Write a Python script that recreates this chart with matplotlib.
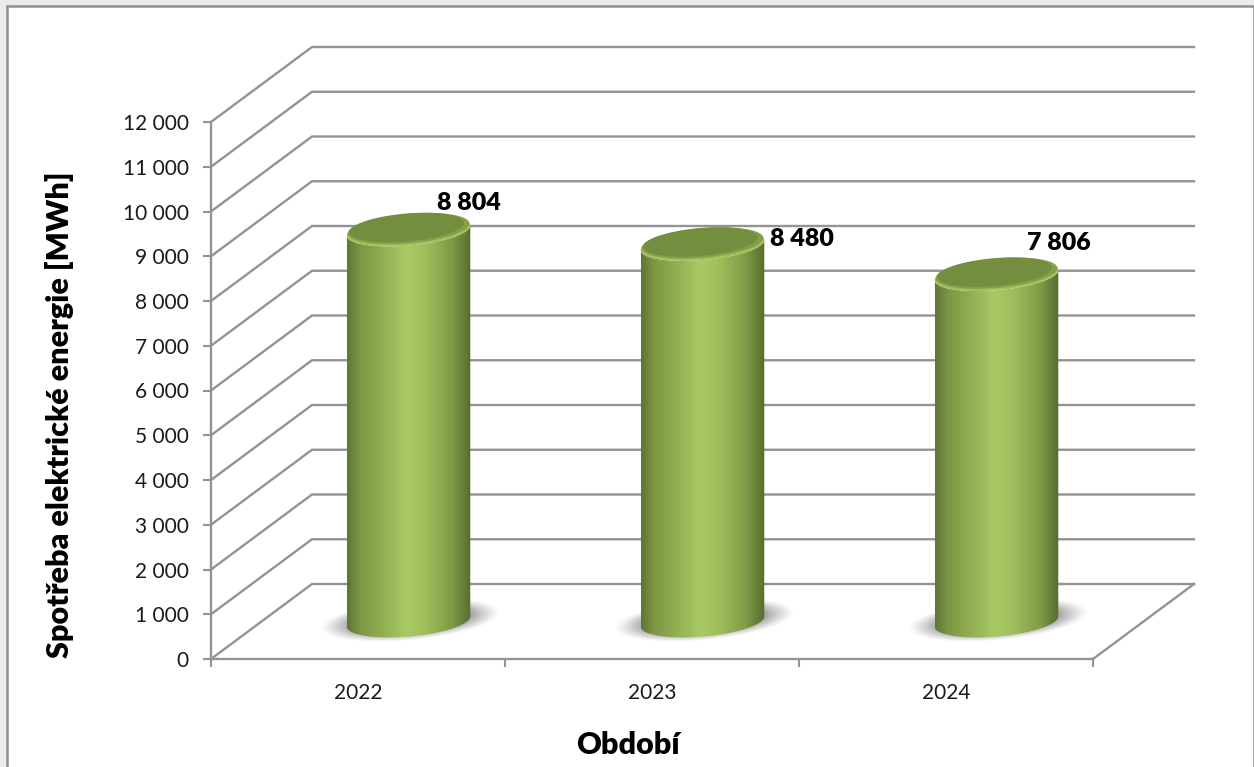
import numpy as np
import matplotlib.pyplot as plt
from matplotlib.colors import LinearSegmentedColormap, to_rgb
from matplotlib.patches import Polygon, Rectangle

plt.rcParams['font.family'] = ['Lato', 'DejaVu Sans']

# data
years = ['2022', '2023', '2024']
spotreba = [8804, 8480, 7806]
spotreba_labels = ['8 804', '8 480', '7 806']
y_ticks = list(range(0, 13000, 1000))
y_tick_labels = ['0', '1 000', '2 000', '3 000', '4 000', '5 000', '6 000', '7 000',
                 '8 000', '9 000', '10 000', '11 000', '12 000']
label_offsets = [(60, 25), (99, 3), (62, 29)]

W, H = 1254, 767
fig = plt.figure(figsize=(W / 100, H / 100), dpi=100, facecolor='#ebebeb')

# chart area with grey frame, bottom edge runs off the picture
fig.add_artist(Rectangle((7 / W, -0.02), (W - 7.5) / W, (H - 6) / H + 0.02, transform=fig.transFigure,
                         fc='white', ec='#8f8f8f', lw=1.8, zorder=-1))

ax = fig.add_axes([211 / W, (H - 659) / H, 882 / W, 537 / H])
ax.set_facecolor('none')

# px -> data units
PX = 3 / 882
PY = 12000 / 537
depth_x, depth_y = 101 * PX, 75 * PY
grid_c = '#939393'

# 3d walls
for v in y_ticks:
    ax.plot([0, depth_x, 3 + depth_x], [v, v + depth_y, v + depth_y], color=grid_c, lw=1.7,
            clip_on=False, zorder=1, solid_joinstyle='miter')
ax.plot([3, 3 + depth_x], [0, depth_y], color=grid_c, lw=1.7, clip_on=False, zorder=1)

cmap = LinearSegmentedColormap.from_list('cyl', [
    (0, '#5d7535'), (0.1, '#7b9644'), (0.3, '#93b153'), (0.48, '#a8ca64'),
    (0.62, '#a0c05c'), (0.85, '#7e9b46'), (1, '#566d2e')])
grad = np.linspace(0, 1, 256).reshape(1, -1)

rx, ry, tilt = 62, 15, np.radians(5)


def ell(cx, cy, t, scale=1.0, dy=0.0):
    # tilted ellipse, sizes in px
    px = scale * rx * np.cos(t) * np.cos(tilt) - scale * ry * np.sin(t) * np.sin(tilt)
    py = scale * rx * np.cos(t) * np.sin(tilt) + scale * ry * np.sin(t) * np.cos(tilt)
    return np.column_stack([cx + px * PX, cy + (py + dy) * PY])


t_all = np.linspace(0, 2 * np.pi, 200)
for i, val in enumerate(spotreba):
    cx = i + 0.5 + depth_x / 2
    cy0 = depth_y / 2
    top = val + cy0 - 3 * PY

    # shadow on the floor
    sx = np.linspace(-100, 100, 300)
    sy = np.linspace(-32, 32, 120)
    X, Y = np.meshgrid(sx, sy)
    d = np.sqrt(((X - 1.5 * Y) / 84) ** 2 + ((Y - 1) / 22) ** 2)
    shadow = np.zeros(X.shape + (4,))
    shadow[..., :3] = to_rgb('#5a5a5a')
    shadow[..., 3] = np.clip((1 - d) / 0.45, 0, 1) ** 1.2 * 0.8
    ax.imshow(shadow, extent=[cx - 100 * PX, cx + 100 * PX, cy0 - 32 * PY, cy0 + 32 * PY],
              origin='lower', aspect='auto', zorder=2, clip_on=False, interpolation='bilinear')

    # body
    lower = ell(cx, cy0, np.linspace(np.pi, 2 * np.pi, 80))
    upper = ell(cx, top, np.linspace(2 * np.pi, np.pi, 80))
    body = Polygon(np.vstack([lower, upper]), closed=True, fc='none', ec='none', transform=ax.transData)
    ax.add_patch(body)
    im = ax.imshow(grad, cmap=cmap, extent=[cx - rx * PX, cx + rx * PX, 0, val + depth_y],
                   aspect='auto', zorder=3, clip_on=True)
    im.set_clip_path(body)

    # top face with lighter rim
    ax.add_patch(Polygon(ell(cx, top, t_all), closed=True, fc='#a0c05c', ec='none', zorder=4, clip_on=False))
    ax.add_patch(Polygon(ell(cx, top, t_all, 0.985, 2.0), closed=True, fc='#84a149', ec='none', zorder=4.1, clip_on=False))
    ax.add_patch(Polygon(ell(cx - 2 * PX, top, t_all, 0.93, 3.0), closed=True, fc='#748e40', ec='none', zorder=4.2, clip_on=False))

    ax.annotate(spotreba_labels[i], (cx, val + cy0), xytext=(label_offsets[i][0] * 0.72, label_offsets[i][1] * 0.72),
                textcoords='offset points', ha='center', va='center', fontsize=18, fontweight=800,
                color='black', zorder=6, annotation_clip=False)

ax.set_xlim(0, 3)
ax.set_ylim(0, 12000)
ax.set_yticks(y_ticks, y_tick_labels)
ax.set_xticks([0, 1, 2, 3], ['', '', '', ''])
ax.set_xticks([0.5, 1.5, 2.5], years, minor=True)
ax.tick_params(axis='y', length=6, width=1.5, color=grid_c, labelsize=15, pad=10, labelcolor='#1a1a1a')
ax.tick_params(axis='x', which='major', length=6, width=1.5, color=grid_c)
ax.tick_params(axis='x', which='minor', length=0, labelsize=15, pad=17, labelcolor='#1a1a1a')
for s in ['top', 'right']:
    ax.spines[s].set_visible(False)
for s in ['left', 'bottom']:
    ax.spines[s].set_color(grid_c)
    ax.spines[s].set_linewidth(1.7)
    ax.spines[s].set_zorder(1.5)

fig.text(628 / W, 1 - 745 / H, 'Období', ha='center', va='center', fontsize=22, fontweight=800, color='black')
fig.text(60 / W, 1 - 415 / H, 'Spotřeba elektrické energie [MWh]', rotation=90, ha='center', va='center',
         fontsize=22, fontweight=800, color='black')

fig.savefig('out.png', dpi=100, facecolor=fig.get_facecolor())
